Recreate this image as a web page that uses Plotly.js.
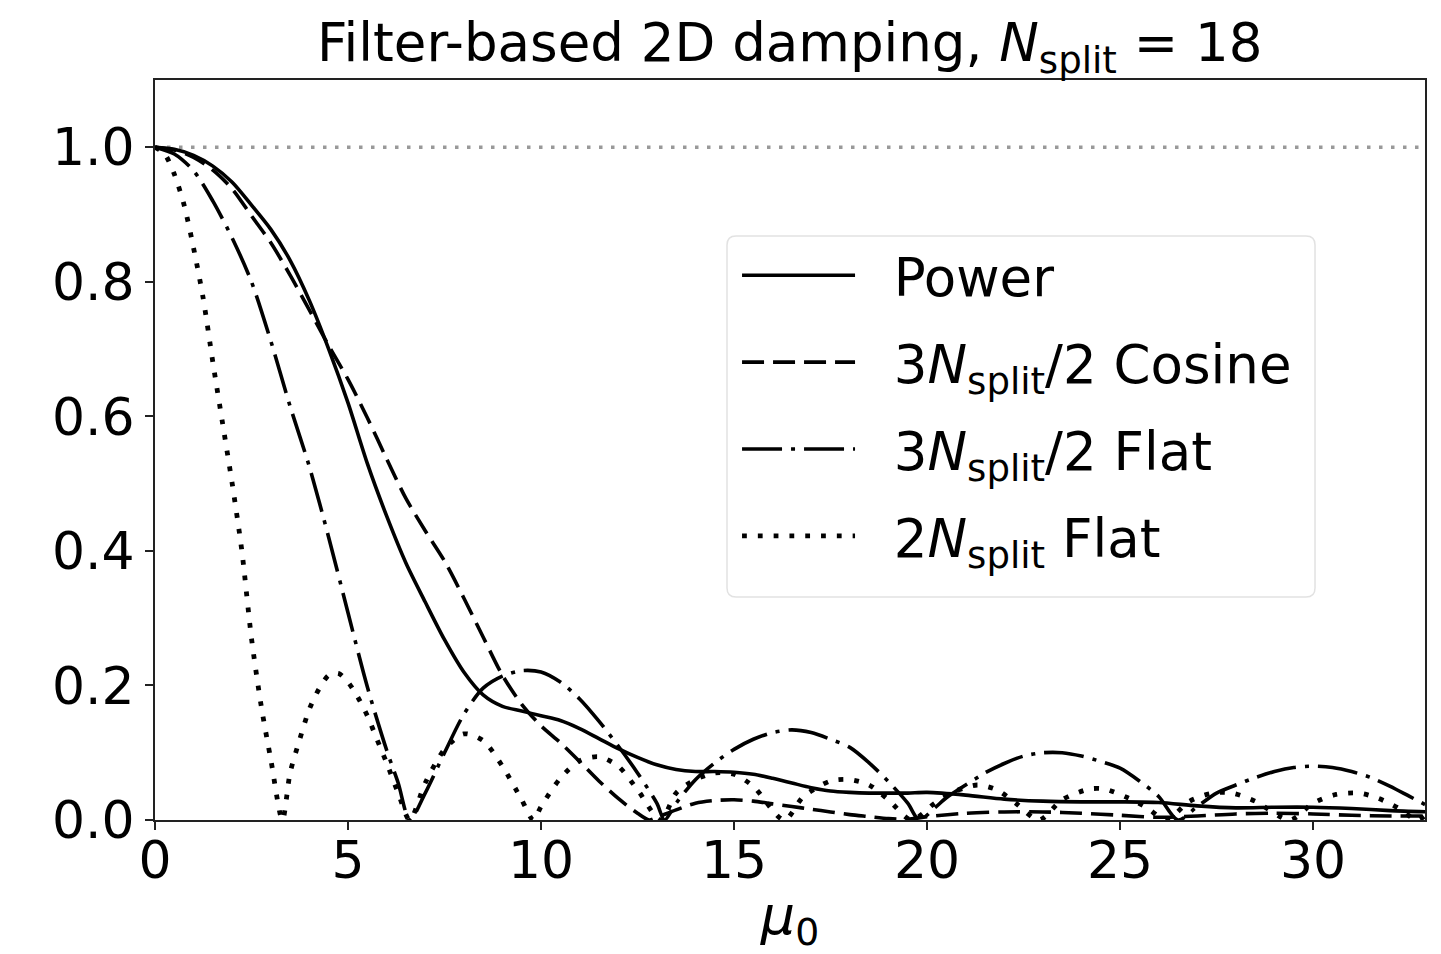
<!DOCTYPE html>
<html>
<head>
<meta charset="utf-8">
<script src="https://cdn.plot.ly/plotly-3.0.1.min.js"></script>
<style>html,body{margin:0;padding:0;background:#fff;}#chart{width:1441px;height:954px;}</style>
</head>
<body>
<div id="chart"></div>
<script>
// Power (solid)
const powerX = [0,0.5,1.0,1.5,2.0,2.5,3.0,3.5,4.0,4.5,5.0,5.5,6.0,6.5,7.0,7.5,8.0,8.5,9.0,9.5,10.0,10.5,11.0,11.5,12.0,12.5,13.0,13.5,14.0,14.5,15.0,15.5,16.0,16.5,17.0,17.5,18.0,18.5,19.0,19.5,20.0,21,22,23,24,25,26,27,28,29,30,31,32,33];
const powerY = [1.0,0.997,0.988,0.972,0.948,0.914,0.878,0.832,0.772,0.700,0.620,0.530,0.452,0.382,0.324,0.268,0.220,0.186,0.169,0.162,0.155,0.148,0.136,0.121,0.106,0.093,0.082,0.075,0.072,0.072,0.071,0.068,0.062,0.055,0.048,0.043,0.041,0.040,0.040,0.040,0.041,0.037,0.031,0.028,0.027,0.027,0.026,0.021,0.018,0.019,0.019,0.017,0.014,0.012];

// 3N_split/2 Cosine (dashed)
const cosX = [0,0.5,1.0,1.5,2.0,2.5,3.0,3.5,4.0,4.5,5.0,5.5,6.0,6.5,7.0,7.5,8.0,8.5,9.0,9.5,10.0,10.5,11.0,11.5,12.0,12.5,12.8,13.0,13.5,14.0,14.5,15.0,15.5,16.0,16.5,17.0,17.5,18.0,18.5,19.0,19.5,20,21,22,23,24,25,26,27,28,29,30,31,32,33];
const cosY = [1.0,0.996,0.985,0.966,0.938,0.898,0.858,0.810,0.758,0.705,0.655,0.598,0.537,0.478,0.430,0.385,0.330,0.272,0.215,0.172,0.140,0.115,0.087,0.058,0.032,0.010,0.0,0.004,0.015,0.025,0.029,0.030,0.028,0.024,0.020,0.016,0.012,0.008,0.005,0.002,0.001,0.005,0.010,0.012,0.012,0.010,0.007,0.004,0.006,0.009,0.010,0.009,0.007,0.006,0.006];

// 3N_split/2 Flat (dash-dot)
const flat3X = [0,0.5,1.0,1.5,2.0,2.5,3.0,3.5,4.0,4.5,5.0,5.5,6.0,6.3,6.6,7.0,7.5,8.0,8.5,9.0,9.5,10.0,10.5,11.0,11.5,12.0,12.5,13.0,13.2,13.5,14.0,14.5,15.0,15.5,16.0,16.5,17.0,17.5,18.0,18.5,19.0,19.5,19.8,20.2,20.5,21.0,21.5,22.0,22.5,23.0,23.5,24.0,24.5,25.0,25.5,26.0,26.5,27.0,27.5,28.0,28.5,29.0,29.5,30.0,30.5,31.0,31.5,32.0,32.5,33.0];
const flat3Y = [1.0,0.99,0.965,0.92,0.865,0.80,0.712,0.615,0.525,0.420,0.308,0.198,0.104,0.055,0.0,0.040,0.100,0.157,0.196,0.214,0.222,0.220,0.205,0.180,0.147,0.110,0.070,0.025,0.0,0.025,0.060,0.085,0.105,0.120,0.130,0.134,0.130,0.120,0.108,0.085,0.057,0.025,0.0,0.018,0.033,0.052,0.070,0.084,0.095,0.100,0.100,0.095,0.087,0.077,0.058,0.035,0.0,0.020,0.040,0.052,0.063,0.072,0.078,0.080,0.078,0.072,0.063,0.050,0.035,0.020];

// 2N_split Flat (dotted)
const flat2X = [0,0.25,0.5,0.75,1.0,1.25,1.5,1.75,2.0,2.25,2.5,2.75,3.0,3.3,3.5,3.75,4.0,4.25,4.5,4.75,5.0,5.25,5.5,5.75,6.0,6.3,6.6,7.0,7.5,8.0,8.5,9.0,9.5,9.8,10.0,10.5,11.0,11.5,12.0,12.5,13.1,13.5,14.0,14.5,15.0,15.5,16.3,16.8,17.5,18.0,18.5,19.0,19.6,20.2,20.7,21.3,21.8,22.3,22.9,23.5,24.2,24.6,25.2,25.7,26.2,26.8,27.4,27.9,28.5,29.4,30.0,30.6,31.2,31.7,32.2,32.7,33.0];
const flat2Y = [1.0,0.99,0.96,0.915,0.85,0.775,0.68,0.59,0.50,0.40,0.27,0.17,0.09,0.0,0.07,0.12,0.165,0.195,0.215,0.218,0.205,0.183,0.155,0.12,0.085,0.04,0.0,0.055,0.105,0.128,0.118,0.080,0.030,0.0,0.020,0.062,0.088,0.094,0.080,0.045,0.0,0.040,0.060,0.070,0.068,0.050,0.0,0.035,0.058,0.060,0.052,0.030,0.0,0.025,0.042,0.052,0.045,0.025,0.0,0.030,0.046,0.046,0.033,0.018,0.0,0.028,0.040,0.040,0.028,0.0,0.025,0.038,0.040,0.032,0.018,0.0,0.012];

const seriesNames = ['Power', '3<i>N</i><sub>split</sub>/2 Cosine', '3<i>N</i><sub>split</sub>/2 Flat', '2<i>N</i><sub>split</sub> Flat'];
const xTicks = [0,5,10,15,20,25,30];
const yTicks = [0,0.2,0.4,0.6,0.8,1.0];

const FONT = 'DejaVu Sans, sans-serif';
const GAP = '\u00a0\u00a0';
const traces = [
  {x: powerX, y: powerY, name: GAP + seriesNames[0], legendgroup: 'a', line: {color: '#000', width: 3.6, dash: 'solid', shape: 'spline', smoothing: 0.8}},
  {x: cosX, y: cosY, name: GAP + seriesNames[1], legendgroup: 'b', line: {color: '#000', width: 3.6, dash: '22px,9px', shape: 'spline', smoothing: 0.8}},
  {x: flat3X, y: flat3Y, name: GAP + seriesNames[2], legendgroup: 'c', line: {color: '#000', width: 3.6, dash: '40px,9px,4px,9px', shape: 'spline', smoothing: 0.8}},
  {x: flat2X, y: flat2Y, name: GAP + seriesNames[3], legendgroup: 'd', line: {color: '#000', width: 4.8, dash: '4.8px,11px', shape: 'spline', smoothing: 0.8}}
].map(t => Object.assign({type: 'scatter', mode: 'lines'}, t));

// legend frame (rounded), paper coordinates
const fx0 = 0.4504, fx1 = 0.9134, fy0 = 0.3014, fy1 = 0.7892;
const rx = 9 / 1270, ry = 9 / 740;
const framePath = `M${fx0 + rx},${fy1} L${fx1 - rx},${fy1} Q${fx1},${fy1} ${fx1},${fy1 - ry} L${fx1},${fy0 + ry} Q${fx1},${fy0} ${fx1 - rx},${fy0} L${fx0 + rx},${fy0} Q${fx0},${fy0} ${fx0},${fy0 + ry} L${fx0},${fy1 - ry} Q${fx0},${fy1} ${fx0 + rx},${fy1} Z`;

const layout = {
  width: 1441, height: 954,
  margin: {l: 155, r: 16, t: 80, b: 134, pad: 0},
  paper_bgcolor: '#fff', plot_bgcolor: '#fff',
  font: {family: FONT, color: '#000', size: 52},
  title: {text: 'Filter-based 2D damping, <i>N</i><sub>split</sub> = 18', font: {family: FONT, size: 53, color: '#000'}, x: 0.548, xanchor: 'center', y: 0.955, yanchor: 'middle'},
  xaxis: {range: [0, 32.9], tickvals: xTicks, ticktext: xTicks.map(String), ticks: 'outside', ticklen: 8, tickwidth: 2, tickcolor: '#222',
          showline: true, linecolor: '#222', linewidth: 2, mirror: true, showgrid: false, zeroline: false, ticklabelstandoff: -14,
          tickfont: {family: FONT, size: 52, color: '#000'},
          title: {text: '<i>μ</i><sub>0</sub>', font: {family: FONT, size: 54, color: '#000'}, standoff: 6}},
  yaxis: {range: [0, 1.1], tickvals: yTicks, ticktext: yTicks.map(v => v.toFixed(1)), ticks: 'outside', ticklen: 8, tickwidth: 2, tickcolor: '#222',
          showline: true, linecolor: '#222', linewidth: 2, mirror: true, showgrid: false, zeroline: false,
          tickfont: {family: FONT, size: 52, color: '#000'}},
  shapes: [
    {type: 'line', xref: 'paper', x0: 0, x1: 1, yref: 'y', y0: 1, y1: 1, line: {color: '#999', width: 3.5, dash: '3.5px,8.5px'}, layer: 'below'},
    {type: 'path', xref: 'paper', yref: 'paper', path: framePath, fillcolor: 'rgba(255,255,255,0.85)', line: {color: '#e2e2e2', width: 1.5}, layer: 'above'}
  ],
  legend: {x: 0.4583, y: 0.7915, xanchor: 'left', yanchor: 'top', bgcolor: 'rgba(0,0,0,0)', borderwidth: 0, traceorder: 'grouped',
           font: {family: FONT, size: 53, color: '#000'}, tracegroupgap: 15, itemwidth: 113},
  showlegend: true
};

Plotly.newPlot('chart', traces, layout, {displayModeBar: false, staticPlot: true});
</script>
</body>
</html>
